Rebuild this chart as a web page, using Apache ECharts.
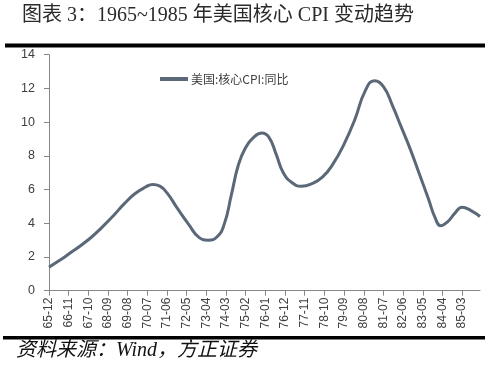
<!DOCTYPE html>
<html>
<head>
<meta charset="utf-8">
<script src="https://cdn.jsdelivr.net/npm/echarts@6/dist/echarts.min.js"></script>
<style>
html,body{margin:0;padding:0;background:#fff;}
#c{width:489px;height:368px;}
</style>
</head>
<body>
<div id="c"></div>
<script>
// Tick labels shown on the x axis (every 11 months)
var tickLabels = ['65-12','66-11','67-10','68-09','69-08','70-07','71-06','72-05','73-04','74-03','75-02',
  '76-01','76-12','77-11','78-10','79-09','80-08','81-07','82-06','83-05','84-04','85-03'];
var pointMonths = ['65-12','66-06','66-12','67-06','67-12','68-06','68-12','69-06','69-12','70-06','70-10',
  '71-02','71-06','71-12','72-06','72-12','73-05','73-10','74-02','74-06','74-10','75-02','75-06','75-11',
  '76-03','76-07','76-11','77-04','77-09','78-03','78-09','79-03','79-09','80-03','80-09','81-02','81-07',
  '81-12','82-05','82-10','83-03','83-08','83-12','84-03','84-07','84-11','85-03','85-08','86-01'];
var pointValues = [1.4,1.8,2.25,2.7,3.2,3.8,4.45,5.15,5.75,6.15,6.3,
  6.2,5.8,4.85,3.95,3.15,3.0,3.2,3.95,5.7,7.5,8.5,9.05,9.35,
  9.1,8.1,7.0,6.4,6.2,6.35,6.75,7.55,8.7,10.15,11.9,12.45,12.1,
  11.0,9.7,8.4,6.95,5.5,4.3,3.85,4.1,4.6,4.95,4.75,4.4];
var seriesName = '美国:核心CPI:同比';

// monthly category axis, 65-12 .. 86-01
var categories = [];
(function(){
  var y = 65, m = 12;
  while (true) {
    categories.push(y + '-' + (m < 10 ? '0' + m : '' + m));
    if (y === 86 && m === 1) break;
    m++; if (m > 12) { m = 1; y++; }
  }
})();
var seriesData = pointMonths.map(function(mo, i){ return [categories.indexOf(mo), pointValues[i]]; });
function isTick(idx){ return tickLabels.indexOf(categories[idx]) >= 0; }

var chart = echarts.init(document.getElementById('c'), null, {renderer:'canvas'});
var axisGray = '#868686';
var textGray = '#404040';
chart.setOption({
  backgroundColor: '#ffffff',
  animation: false,
  grid: {left: 49, right: 9, top: 54.7, bottom: 77.3, containLabel: false},
  legend: {
    data: [{name: seriesName, icon: 'rect'}],
    left: 155, top: 68,
    itemWidth: 28, itemHeight: 4, itemGap: 4,
    textStyle: {fontFamily: 'Noto Sans CJK SC', fontSize: 12, color: textGray, padding: [0,0,0,-2]}
  },
  xAxis: {
    type: 'category',
    data: categories,
    boundaryGap: false,
    axisLine: {lineStyle: {color: axisGray, width: 1}},
    axisTick: {show: true, length: 5, interval: function(i){ return isTick(i); }, lineStyle: {color: axisGray}},
    axisLabel: {
      interval: function(i){ return isTick(i); },
      rotate: 90, margin: 7,
      fontFamily: 'Liberation Sans', fontSize: 12, color: textGray
    },
    splitLine: {show: false}
  },
  yAxis: {
    type: 'value', min: 0, max: 14, interval: 2,
    axisLine: {show: true, lineStyle: {color: axisGray, width: 1}},
    axisTick: {show: true, length: 5, lineStyle: {color: axisGray}},
    axisLabel: {margin: 14, fontFamily: 'Liberation Sans', fontSize: 12.5, color: textGray},
    splitLine: {show: false}
  },
  series: [{
    name: seriesName,
    type: 'line',
    data: seriesData,
    smooth: 0.5,
    showSymbol: false,
    lineStyle: {color: '#5a6878', width: 3},
    itemStyle: {color: '#5a6878'}
  }],
  graphic: [
    {type: 'text', left: 22, top: 6, style: {text: '图表 3：1965~1985 年美国核心 CPI 变动趋势',
      font: '20px "Liberation Serif", "Noto Sans CJK SC"', fill: '#2a2a2a'}},
    {type: 'rect', shape: {x: 5, y: 43.5, width: 480, height: 4}, style: {fill: '#000'}},
    {type: 'rect', shape: {x: 3, y: 336, width: 482, height: 3.5}, style: {fill: '#000'}},
    {type: 'text', left: 16, top: 341, style: {text: '资料来源：Wind，方正证券',
      font: 'italic 20px "Liberation Serif", "Noto Sans CJK SC"', fill: '#111'}}
  ]
});
</script>
</body>
</html>
